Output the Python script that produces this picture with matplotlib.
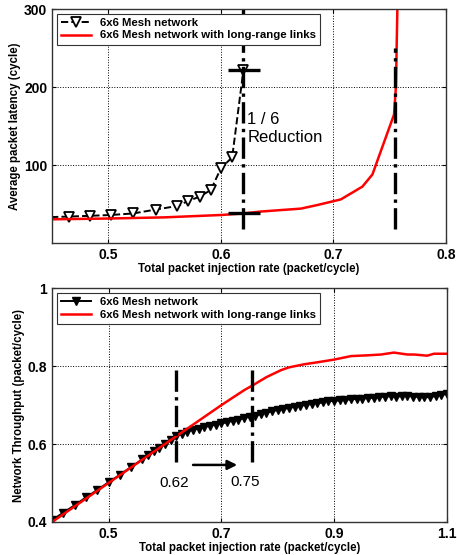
import matplotlib
matplotlib.use("Agg")
import matplotlib.pyplot as plt

plt.rcParams["font.family"] = ["Liberation Sans", "DejaVu Sans"]

# ---- top panel: latency ----
mesh_rate = [0.44, 0.465, 0.484, 0.502, 0.522, 0.542, 0.561, 0.571, 0.581, 0.591, 0.600, 0.610, 0.620]
mesh_latency = [33, 34, 35, 36, 38, 43, 47.5, 54, 59.5, 68, 96, 110, 222]

long_rate = [0.45, 0.50, 0.55, 0.60, 0.62, 0.635, 0.671, 0.686, 0.7065, 0.7257, 0.7346, 0.7538, 0.7555, 0.757]
long_latency = [30.5, 31.5, 33, 36, 38, 40.4, 44.2, 48.9, 56, 72.4, 88, 164.8, 201, 320]

# ---- bottom panel: throughput ----
mesh_inj = [0.40, 0.42, 0.44, 0.46, 0.48, 0.50, 0.52, 0.54, 0.56,
            0.57, 0.58, 0.59, 0.60, 0.61, 0.62, 0.63, 0.64, 0.65, 0.66,
            0.67, 0.68, 0.69, 0.70, 0.71, 0.72, 0.73, 0.74, 0.75, 0.76,
            0.77, 0.78, 0.79, 0.80, 0.81, 0.82, 0.83, 0.84, 0.85, 0.86,
            0.87, 0.88, 0.89, 0.90, 0.91, 0.92, 0.93, 0.94, 0.95, 0.96,
            0.97, 0.98, 0.99, 1.00, 1.01, 1.02, 1.03, 1.04, 1.05, 1.06,
            1.07, 1.08, 1.09, 1.10]
mesh_thr = [0.405, 0.424, 0.443, 0.463, 0.482, 0.502, 0.521, 0.541, 0.561,
            0.571, 0.581, 0.591, 0.600, 0.610, 0.620, 0.627, 0.632, 0.637, 0.640,
            0.644, 0.647, 0.650, 0.653, 0.656, 0.660, 0.663, 0.667, 0.670, 0.673,
            0.677, 0.681, 0.684, 0.688, 0.690, 0.693, 0.696, 0.698, 0.701, 0.703,
            0.705, 0.707, 0.710, 0.711, 0.712, 0.714, 0.715, 0.716, 0.717, 0.718,
            0.719, 0.721, 0.722, 0.723, 0.722, 0.723, 0.724, 0.722, 0.721, 0.720,
            0.721, 0.723, 0.726, 0.729]

long_inj = [0.40, 0.45, 0.50, 0.55, 0.60, 0.65, 0.70, 0.74, 0.757, 0.78, 0.806, 0.82,
            0.847, 0.87, 0.90, 0.93, 0.96, 0.983, 1.006, 1.03, 1.042, 1.065, 1.077, 1.10]
long_thr = [0.40, 0.45, 0.50, 0.55, 0.60, 0.65, 0.70, 0.738, 0.752, 0.772, 0.79, 0.797,
            0.805, 0.81, 0.817, 0.826, 0.828, 0.830, 0.835, 0.830, 0.830, 0.827, 0.832, 0.832]

labels = ["6x6 Mesh network", "6x6 Mesh network with long-range links"]

fs_tick = 10
fs_lab = 8.3
fs_leg = 8.2


def style_axes(ax):
    ax.grid(True, color="black", linestyle=":", linewidth=0.7)
    ax.tick_params(direction="in", top=True, right=True, length=3, labelsize=fs_tick)
    for lbl in ax.get_xticklabels() + ax.get_yticklabels():
        lbl.set_fontweight("bold")
    for sp in ax.spines.values():
        sp.set_color("#333333")
        sp.set_linewidth(1.0)


fig = plt.figure(figsize=(4.57, 5.55), dpi=100)

# top
ax1 = fig.add_axes([0.114, 0.562, 0.862, 0.4216])
ax1.plot(mesh_rate, mesh_latency, "k--", lw=1.4, marker="v", ms=7, mfc="white",
         mec="black", mew=1.3, label=labels[0])
ax1.plot(long_rate, long_latency, color="red", lw=1.8, label=labels[1])

ax1.vlines([0.62], 18, 300, colors="black", linestyles="-.", lw=2.4)
ax1.vlines([0.755], 18, 250, colors="black", linestyles="-.", lw=2.4)
ax1.hlines([222, 39], 0.606, 0.635, colors="black", lw=2.4)
ax1.text(0.6235, 158, "1 / 6", fontsize=12, va="center", ha="left")
ax1.text(0.6235, 136, "Reduction", fontsize=12, va="center", ha="left")

ax1.set_xlim(0.45, 0.8)
ax1.set_ylim(0, 300)
ax1.set_xticks([0.5, 0.6, 0.7, 0.8])
ax1.set_xticklabels(["0.5", "0.6", "0.7", "0.8"])
ax1.set_yticks([100, 200, 300])
ax1.set_xlabel("Total packet injection rate (packet/cycle)", fontsize=fs_lab,
               fontweight="bold", labelpad=1)
ax1.set_ylabel("Average packet latency (cycle)", fontsize=fs_lab, fontweight="bold",
               labelpad=2)
style_axes(ax1)
leg1 = ax1.legend(loc="upper left", prop={"weight": "bold", "size": fs_leg},
                  fancybox=False, edgecolor="#333333", framealpha=1,
                  borderaxespad=0.4, handlelength=2.6, labelspacing=0.2)
leg1.get_frame().set_linewidth(0.8)

# bottom
ax2 = fig.add_axes([0.114, 0.0595, 0.864, 0.421])
ax2.plot(mesh_inj, mesh_thr, color="black", lw=1.4, marker="v", ms=6, mfc="black",
         mec="black", label=labels[0])
ax2.plot(long_inj, long_thr, color="red", lw=1.8, label=labels[1])

ax2.vlines([0.62, 0.755], 0.555, 0.79, colors="black", linestyles="-.", lw=2.4)
ax2.annotate("", xy=(0.733, 0.5465), xytext=(0.645, 0.5465),
             arrowprops=dict(arrowstyle="-|>", color="black", lw=1.8, mutation_scale=14))
ax2.text(0.6157, 0.499, "0.62", fontsize=11, ha="center", va="center")
ax2.text(0.7425, 0.503, "0.75", fontsize=11, ha="center", va="center")

ax2.set_xlim(0.4, 1.1)
ax2.set_ylim(0.4, 1.0)
ax2.set_xticks([0.5, 0.7, 0.9, 1.1])
ax2.set_xticklabels(["0.5", "0.7", "0.9", "1.1"])
ax2.set_yticks([0.4, 0.6, 0.8, 1.0])
ax2.set_yticklabels(["0.4", "0.6", "0.8", "1"])
ax2.set_xlabel("Total packet injection rate (packet/cycle)", fontsize=fs_lab,
               fontweight="bold", labelpad=1)
ax2.set_ylabel("Network Throughput (packet/cycle)", fontsize=fs_lab, fontweight="bold",
               labelpad=2)
style_axes(ax2)
leg2 = ax2.legend(loc="upper left", prop={"weight": "bold", "size": fs_leg},
                  fancybox=False, edgecolor="#333333", framealpha=1,
                  borderaxespad=0.4, handlelength=2.6, labelspacing=0.2)
leg2.get_frame().set_linewidth(0.8)

plt.savefig("out.png", dpi=100)
plt.close()
